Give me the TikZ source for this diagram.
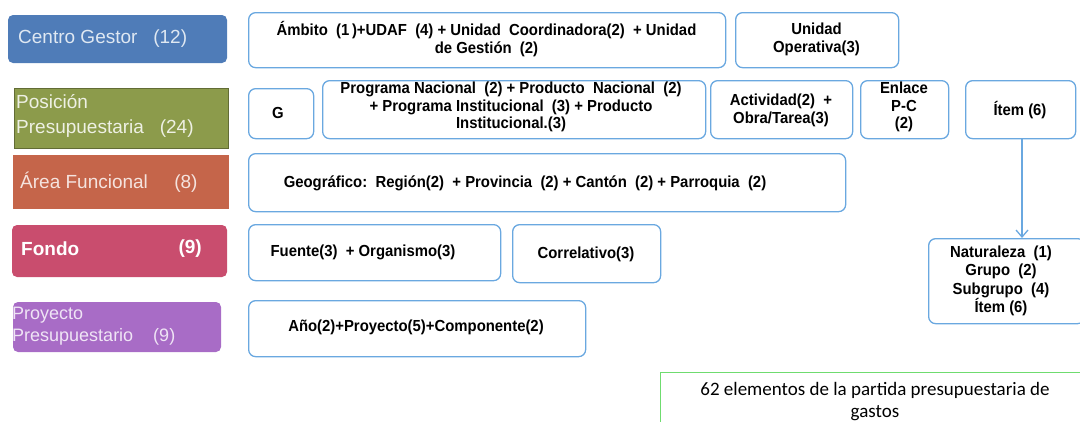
\documentclass[tikz,border=0pt]{standalone}
\usepackage{fontspec}
\setmainfont{Liberation Sans}
\newfontfamily\narrowbold[FakeStretch=0.93]{Liberation Sans Bold}
\newfontfamily\calib{Carlito}
\usetikzlibrary{arrows.meta}
\definecolor{cgblue}{HTML}{4F7CB8}
\definecolor{ppolive}{HTML}{8C9B4B}
\definecolor{aforange}{HTML}{C5654A}
\definecolor{fopink}{HTML}{C94D6E}
\definecolor{prpurple}{HTML}{A86CC6}
\definecolor{bblue}{HTML}{6AA8E0}
\definecolor{ggreen}{HTML}{6FDC6F}
\tikzset{
  catbox/.style={anchor=north west, inner sep=0pt, outer sep=0pt},
  cattext/.style={inner sep=0pt, anchor=west, align=left, font=\fontsize{19}{25}\selectfont},
  partbox/.style={draw=bblue, line width=1.3pt, rounded corners=7pt, fill=white, anchor=north west,
    inner sep=0pt},
  parttext/.style={inner sep=0pt, align=center, font=\narrowbold\fontsize{16}{18}\selectfont},
}
\begin{document}
\begin{tikzpicture}[x=1pt,y=-1pt]
\useasboundingbox (0,0) rectangle (1080,421);
\clip (0,0) rectangle (1080,421);
% category boxes
\node[catbox, fill=cgblue, rounded corners=5pt, minimum width=219pt, minimum height=48pt] (cg) at (8,15) {};
\node[cattext, text=white!82!cgblue] (cgt) at (18,39) {Centro\ Gestor\ \ \ (12)};
\node[catbox, fill=ppolive, draw=ppolive!70!black, line width=0.6pt, minimum width=214pt, minimum height=60pt] (pp) at (14,88) {};
\node[cattext, text=white!85!ppolive] (ppt) at (16,116) {Posición\\Presupuestaria\ \ \ (24)};
\node[catbox, fill=aforange, minimum width=216pt, minimum height=54pt] (af) at (13,155) {};
\node[cattext, text=white!82!aforange] (aft) at (20,182) {Área Funcional\ \ \ \ \ (8)};
\node[catbox, fill=fopink, rounded corners=5pt, minimum width=215pt, minimum height=52pt] (fo) at (12,225) {};
\node[cattext, text=white, font=\bfseries\fontsize{19}{25}\selectfont] (fot) at (21,249) {Fondo};
\node[cattext, text=white, font=\bfseries\fontsize{19}{25}\selectfont, anchor=east] (fon) at (202,249) {(9)};
\node[catbox, fill=prpurple, rounded corners=5pt, minimum width=208pt, minimum height=50pt] (pr) at (13,302) {};
\node[cattext, text=white!82!prpurple, font=\fontsize{18}{22}\selectfont] (prt) at (12,326) {Proyecto\\Presupuestario\ \ \ \ (9)};
% part boxes
\node[partbox, minimum width=477pt, minimum height=55pt] (amb) at (248,12) {};
\node[parttext] (ambt) at (486.5,39) {Ámbito\ \ (1\,)+UDAF\ \ (4) + Unidad\ \ Coordinadora(2)\ \ + Unidad\\de Gestión\ \ (2)};
\node[partbox, minimum width=163pt, minimum height=55pt] (uo) at (735,12) {};
\node[parttext] (uot) at (816.5,39) {Unidad\\Operativa(3)};
\node[partbox, minimum width=65pt, minimum height=50pt] (g) at (248,88) {};
\node[parttext] (gt) at (278,113) {G};
\node[partbox, minimum width=383pt, minimum height=58pt] (prog) at (322,80) {};
\node[parttext, font=\narrowbold\fontsize{16}{17.5}\selectfont] (progt) at (511,107) {Programa Nacional\ \ (2) + Producto\ \ Nacional\ \ (2)\\+ Programa Institucional\ \ (3) + Producto\\Institucional.(3)};
\node[partbox, minimum width=142pt, minimum height=58pt] (act) at (710,80) {};
\node[parttext] (actt) at (781,110) {Actividad(2)\ \ +\\Obra/Tarea(3)};
\node[partbox, minimum width=88pt, minimum height=58pt] (enl) at (860,80) {};
\node[parttext, font=\narrowbold\fontsize{16}{17.5}\selectfont] (enlt) at (904,107) {Enlace\\P-C\\(2)};
\node[partbox, minimum width=110pt, minimum height=58pt] (item) at (965,80) {};
\node[parttext] (itemt) at (1020,110) {Ítem (6)};
\node[partbox, minimum width=597pt, minimum height=58pt] (geo) at (248,153) {};
\node[parttext] (geot) at (525,183) {Geográfico:\ \ Región(2)\ \ + Provincia\ \ (2) + Cantón\ \ (2) + Parroquia\ \ (2)};
\node[partbox, minimum width=252pt, minimum height=56pt] (fue) at (248,224) {};
\node[parttext] (fuet) at (363,252) {Fuente(3)\ \ + Organismo(3)};
\node[partbox, minimum width=148pt, minimum height=58pt] (cor) at (512,224) {};
\node[parttext] (cort) at (586,254) {Correlativo(3)};
\node[partbox, minimum width=337pt, minimum height=56pt] (ano) at (248,300) {};
\node[parttext] (anot) at (416,327) {Año(2)+Proyecto(5)+Componente(2)};
\node[partbox, minimum width=156pt, minimum height=85pt] (nat) at (928,238) {};
\node[parttext, font=\narrowbold\fontsize{16}{18.5}\selectfont] (natt) at (1001,281) {Naturaleza\ \ (1)\\Grupo\ \ (2)\\Subgrupo\ \ (4)\\Ítem (6)};
\coordinate (itembot) at (1022,138);
\coordinate (nattop) at (1022,238);
\draw[bblue, line width=1.3pt, -{Straight Barb[length=7pt,width=12pt]}] (itembot) -- (nattop);
% summary box
\node[draw=ggreen, line width=1.2pt, fill=white, anchor=north west, minimum width=425pt, minimum height=60pt, inner sep=0pt] (sum) at (660,372) {};
\node[inner sep=0pt, font=\calib\fontsize{19}{22}\selectfont, align=center] (sumt) at (875,402) {62 elementos de la partida presupuestaria de\\gastos};
\end{tikzpicture}
\end{document}
